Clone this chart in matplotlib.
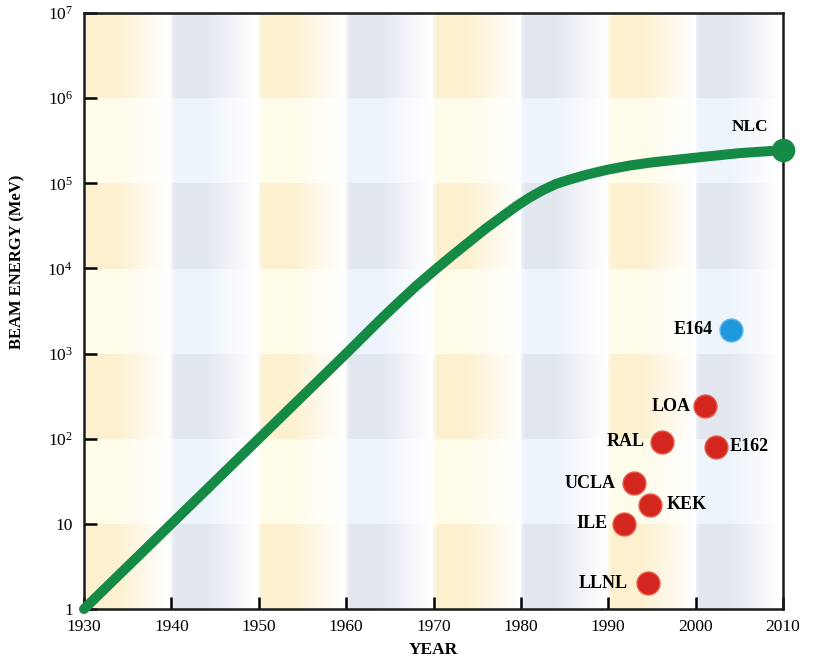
from __future__ import annotations

import matplotlib

matplotlib.use("Agg")
import matplotlib.pyplot as plt
import numpy as np


# accelerator energy frontier
CURVE_YEARS = [1930, 1940, 1950, 1960, 1964, 1966, 1968, 1970, 1972, 1974, 1976, 1978,
               1979.5, 1981, 1982.5, 1984, 1985.5, 1987.5, 1990, 1992.5, 1995, 2000, 2005, 2010]
CURVE_ENERGY = [1.0, 10.0, 100.0, 1.0e3, 2.55e3, 4.0e3, 6.2e3, 9.3e3, 1.38e4, 2.02e4, 2.95e4, 4.17e4,
                5.4e4, 6.8e4, 8.3e4, 9.8e4, 1.1e5, 1.26e5, 1.45e5, 1.62e5, 1.76e5, 2.0e5, 2.26e5, 2.45e5]

# laser / plasma acceleration experiments
LAB_NAMES = ["ILE", "UCLA", "KEK", "LLNL", "RAL", "LOA", "E162", "E164"]
LAB_YEARS = [1991.8, 1992.9, 1994.8, 1994.5, 1996.1, 2001.1, 2002.3, 2004.1]
LAB_ENERGY = [10.0, 30.0, 16.7, 2.0, 92.0, 240.0, 81.0, 1900.0]
LAB_COLORS = ["red", "red", "red", "red", "red", "red", "red", "blue"]

NLC_YEAR = 2010
NLC_ENERGY = 2.45e5

X_TICKS = [1930, 1940, 1950, 1960, 1970, 1980, 1990, 2000, 2010]
Y_TICKS = [1, 10, 1e2, 1e3, 1e4, 1e5, 1e6, 1e7]
Y_TICK_LABELS = ["1", "10", r"10$^{2}$", r"10$^{3}$", r"10$^{4}$", r"10$^{5}$", r"10$^{6}$", r"10$^{7}$"]

# label offsets in pixels (dx, dy, ha)
LABEL_OFFSETS = {
    "ILE": (-16, 0, "right"),
    "UCLA": (-18, 0, "right"),
    "KEK": (16, 0, "left"),
    "LLNL": (-20, 0, "right"),
    "RAL": (-17, 0, "right"),
    "LOA": (-15, 0, "right"),
    "E162": (14, 0, "left"),
    "E164": (-19, 0, "right"),
}

RED = "#D3261F"
BLUE = "#1E98DA"
GREEN = "#158A45"

YELLOW_STRONG = np.array([252, 240, 206]) / 255
YELLOW_LIGHT = np.array([255, 252, 233]) / 255
BLUE_STRONG = np.array([225, 230, 239]) / 255
BLUE_LIGHT = np.array([237, 244, 251]) / 255


def background() -> np.ndarray:
    n = 120
    t = np.linspace(0, 1, n)
    w = np.clip((0.97 - t) / 0.6, 0, 1) * np.clip(0.5 + t / 0.1, 0, 1)
    img = np.ones((7, 8 * n, 3))
    for r in range(7):
        strong = r % 2 == 0
        for c in range(8):
            if c % 2 == 0:
                base = YELLOW_STRONG if strong else YELLOW_LIGHT
            else:
                base = BLUE_STRONG if strong else BLUE_LIGHT
            img[r, c * n:(c + 1) * n, :] = 1 - w[:, None] * (1 - base[None, :])
    return img


def plot() -> None:
    plt.rcParams.update(
        {
            "font.family": "Liberation Serif",
            "mathtext.fontset": "custom",
            "mathtext.rm": "Liberation Serif",
            "mathtext.it": "Liberation Serif",
        }
    )
    fig = plt.figure(figsize=(8.17, 6.63), dpi=100)
    pos = [84 / 817, 54 / 663, (783 - 84) / 817, (609 - 13) / 663]

    ax_bg = fig.add_axes(pos, zorder=0)
    ax_bg.imshow(background(), extent=(0, 8, 0, 7), origin="lower", aspect="auto", interpolation="nearest")
    ax_bg.set_xlim(0, 8)
    ax_bg.set_ylim(0, 7)
    ax_bg.axis("off")

    ax = fig.add_axes(pos, zorder=1)
    ax.patch.set_alpha(0)
    ax.set_yscale("log")
    ax.set_xlim(1930, 2010)
    ax.set_ylim(1, 1e7)

    ax.plot(CURVE_YEARS, CURVE_ENERGY, color=GREEN, linewidth=7.2,
            solid_capstyle="round", solid_joinstyle="round", clip_on=False, zorder=3)
    ax.plot([NLC_YEAR], [NLC_ENERGY], "o", color=GREEN, markersize=16, clip_on=False, zorder=4)
    ax.annotate("NLC", (NLC_YEAR, NLC_ENERGY), xytext=(-33, 23), textcoords="offset pixels",
                ha="center", va="center", fontsize=12.5, fontweight="bold")

    for name, yr, en, col in zip(LAB_NAMES, LAB_YEARS, LAB_ENERGY, LAB_COLORS, strict=True):
        face = RED if col == "red" else BLUE
        edge = "#E85A4E" if col == "red" else "#5BB8E8"
        ax.plot([yr], [en], "o", color=face, markeredgecolor=edge, markeredgewidth=1.0,
                markersize=16.5, zorder=4)
        dx, dy, ha = LABEL_OFFSETS[name]
        ax.annotate(name, (yr, en), xytext=(dx, dy), textcoords="offset pixels",
                    ha=ha, va="center", fontsize=13, fontweight="bold")

    ax.set_xticks(X_TICKS)
    ax.set_xticklabels([str(x) for x in X_TICKS])
    ax.set_yticks(Y_TICKS)
    ax.set_yticklabels(Y_TICK_LABELS)
    ax.minorticks_off()
    ax.tick_params(direction="in", length=9, width=1.8, labelsize=12.5, colors="black")
    ax.tick_params(axis="x", pad=7)
    ax.tick_params(axis="y", pad=8)
    for spine in ax.spines.values():
        spine.set_linewidth(1.8)
        spine.set_color("#1a1a1a")

    ax.set_xlabel("YEAR", fontsize=12.5, fontweight="bold")
    ax.set_ylabel("BEAM ENERGY (MeV)", fontsize=12, fontweight="bold")
    ax.xaxis.set_label_coords(0.5, -0.056)
    ax.yaxis.set_label_coords(-0.084, 0.582)

    fig.savefig("out.png", dpi=100)
    plt.close(fig)


def main() -> None:
    plot()


if __name__ == "__main__":
    main()
